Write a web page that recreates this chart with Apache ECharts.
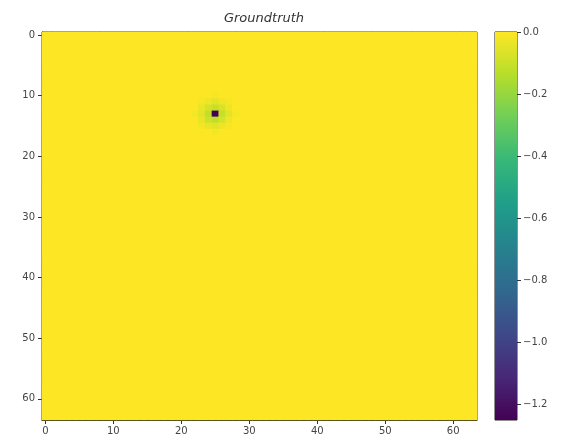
<!DOCTYPE html>
<html>
<head>
<meta charset="utf-8">
<script src="https://cdn.jsdelivr.net/npm/echarts@6/dist/echarts.min.js"></script>
<style>html,body{margin:0;padding:0;background:#fff;}#c{width:563px;height:444px;}</style>
</head>
<body>
<div id="c"></div>
<script>
// 64x64 grid; background value everywhere is 0.0
const gridSize = 64;
const backgroundValue = 0.0;
// non-zero cells: [column, row, value]
const spotCells = [
  [25, 13, -1.25],
  [24, 13, -0.12], [26, 13, -0.11], [25, 12, -0.11], [25, 14, -0.12],
  [24, 12, -0.08], [26, 12, -0.07], [24, 14, -0.09], [26, 14, -0.08],
  [23, 13, -0.05], [27, 13, -0.05], [25, 11, -0.05], [25, 15, -0.05],
  [23, 12, -0.035], [23, 14, -0.04], [27, 12, -0.03], [27, 14, -0.03],
  [24, 11, -0.03], [26, 11, -0.03], [24, 15, -0.04], [26, 15, -0.03],
  [22, 13, -0.02], [28, 13, -0.015], [25, 10, -0.015], [25, 16, -0.02],
  [23, 11, -0.015], [27, 11, -0.015], [23, 15, -0.02], [27, 15, -0.015]
];
const xTickLabels = ['0', '10', '20', '30', '40', '50', '60'];
const yTickLabels = ['0', '10', '20', '30', '40', '50', '60'];
const colorbarMin = -1.25;
const colorbarMax = 0.0;
const colorbarTicks = [0.0, -0.2, -0.4, -0.6, -0.8, -1.0, -1.2];
const viridis = ['#440154','#482878','#3e4989','#31688e','#26828e','#1f9e89','#35b779','#6ece58','#b5de2b','#fde725'];

const cats = [];
for (let i = 0; i < gridSize; i++) cats.push(String(i));
const cellMap = {};
spotCells.forEach(c => { cellMap[c[0] + ',' + c[1]] = c[2]; });
const heatData = [];
for (let r = 0; r < gridSize; r++) {
  for (let c = 0; c < gridSize; c++) {
    const k = c + ',' + r;
    heatData.push([c, r, k in cellMap ? cellMap[k] : backgroundValue]);
  }
}
const showTick = (i, v) => xTickLabels.indexOf(String(v)) >= 0;
const showTickY = (i, v) => yTickLabels.indexOf(String(v)) >= 0;
const fontFam = 'DejaVu Sans';
const gradStops = viridis.map((c, i) => ({ offset: 1 - i / (viridis.length - 1), color: c }));

const chart = echarts.init(document.getElementById('c'), null, { renderer: 'canvas' });
chart.setOption({
  backgroundColor: '#fff',
  animation: false,
  title: {
    text: 'Groundtruth', left: 259, top: 7, textAlign: 'center',
    textStyle: { fontFamily: fontFam, fontStyle: 'italic', fontWeight: 'normal', fontSize: 13, color: '#333' }
  },
  grid: [
    { left: 42, right: 86, top: 32, bottom: 24, show: true, borderColor: '#222', borderWidth: 1, backgroundColor: viridis[viridis.length - 1] },
    { left: 495, width: 22, top: 32, bottom: 24, show: true, borderColor: '#222', borderWidth: 1, backgroundColor: 'transparent' }
  ],
  xAxis: [
    { type: 'category', gridIndex: 0, data: cats, position: 'bottom',
      axisLine: { show: true, lineStyle: { color: '#222' } },
      axisTick: { show: true, interval: showTick, alignWithLabel: true, length: 4, lineStyle: { color: '#333' } },
      axisLabel: { interval: showTick, fontFamily: fontFam, fontSize: 10, color: '#444', margin: 6 },
      splitLine: { show: false } },
    { type: 'category', gridIndex: 1, data: ['c'], show: false }
  ],
  yAxis: [
    { type: 'category', gridIndex: 0, data: cats, inverse: true,
      axisLine: { show: true, lineStyle: { color: '#222' } },
      axisTick: { show: true, interval: showTickY, alignWithLabel: true, length: 4, lineStyle: { color: '#333' } },
      axisLabel: { interval: showTickY, fontFamily: fontFam, fontSize: 10, color: '#444', margin: 7 },
      splitLine: { show: false } },
    { type: 'value', gridIndex: 1, position: 'right', min: colorbarMin, max: colorbarMax,
      axisLine: { show: false },
      axisTick: { show: true, length: 4, customValues: colorbarTicks, lineStyle: { color: '#333' } },
      axisLabel: { customValues: colorbarTicks, fontFamily: fontFam, fontSize: 10, color: '#444', margin: 6,
        formatter: v => (Math.abs(v) < 1e-9 ? '0.0' : '\u2212' + Math.abs(v).toFixed(1)) },
      splitLine: { show: false } }
  ],
  visualMap: {
    show: false, type: 'continuous', min: colorbarMin, max: colorbarMax, seriesIndex: 0,
    inRange: { color: viridis }
  },
  series: [
    { type: 'heatmap', xAxisIndex: 0, yAxisIndex: 0, data: heatData, progressive: 0, emphasis: { disabled: true } },
    { type: 'bar', xAxisIndex: 1, yAxisIndex: 1, data: [colorbarMin], barWidth: '100%', silent: true,
      itemStyle: { color: { type: 'linear', x: 0, y: 0, x2: 0, y2: 1, colorStops: gradStops } } }
  ]
});
</script>
</body>
</html>
